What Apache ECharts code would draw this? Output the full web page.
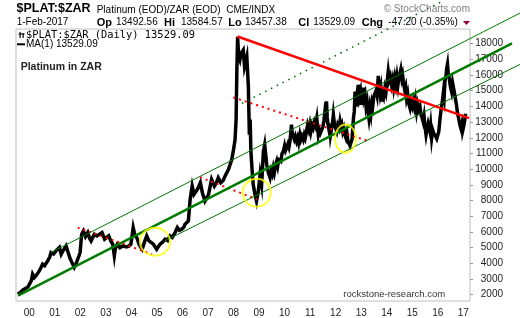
<!DOCTYPE html>
<html><head><meta charset="utf-8">
<script src="https://cdn.jsdelivr.net/npm/echarts@6/dist/echarts.min.js"></script>
<style>html,body{margin:0;padding:0;background:#fff;}#c{width:520px;height:318px;}</style>
</head><body><div id="c"></div>
<script>
// ---- data (decimal year, ZAR per oz) ----
const years = [1999.55,1999.65,1999.75,1999.80,1999.95,2000.00,2000.08,2000.13,2000.20,2000.28,2000.39,2000.45,2000.52,2000.60,2000.72,2000.80,2000.85,2000.95,
2001.05,2001.12,2001.18,2001.25,2001.32,2001.44,2001.52,2001.60,2001.70,2001.76,2001.85,2001.95,2001.99,
2002.05,2002.12,2002.20,2002.29,2002.36,2002.42,2002.50,2002.55,2002.65,2002.75,2002.85,2002.95,
2003.02,2003.11,2003.20,2003.27,2003.33,2003.37,2003.45,2003.55,2003.66,2003.80,2003.90,2003.98,
2004.07,2004.13,2004.22,2004.30,2004.34,2004.42,2004.52,2004.60,2004.68,2004.75,2004.86,2004.99,
2005.05,2005.12,2005.22,2005.32,2005.42,2005.51,2005.60,2005.71,2005.80,2005.88,2005.97,
2006.05,2006.10,2006.23,2006.30,2006.38,2006.45,2006.54,2006.62,2006.70,2006.78,2006.88,2006.96,
2007.02,2007.14,2007.25,2007.32,2007.40,2007.50,2007.60,2007.67,2007.80,2007.93,
2008.00,2008.06,2008.10,2008.13,2008.16,2008.20,2008.25,2008.30,2008.38,2008.43,2008.52,2008.58,2008.62,2008.65,2008.68,2008.73,2008.77,2008.84,2008.90,2008.97,
2009.04,2009.10,2009.17,2009.22,2009.30,2009.36,2009.43,2009.48,2009.52,2009.56,2009.60,2009.65,2009.69,2009.73,2009.77,2009.80,2009.85,2009.90,2009.95,
2010.00,2010.04,2010.08,2010.13,2010.17,2010.21,2010.24,2010.27,2010.30,2010.34,2010.38,2010.42,2010.47,2010.51,2010.55,2010.60,2010.64,2010.68,2010.73,2010.77,2010.81,2010.86,2010.90,2010.95,2010.99,
2011.03,2011.08,2011.12,2011.17,2011.21,2011.26,2011.29,2011.32,2011.36,2011.40,2011.45,2011.50,2011.54,2011.58,2011.62,2011.64,2011.67,2011.70,2011.74,2011.77,2011.80,2011.84,2011.88,2011.91,2011.95,
2012.00,2012.04,2012.08,2012.13,2012.17,2012.21,2012.24,2012.28,2012.32,2012.36,2012.40,2012.44,2012.48,2012.52,2012.56,2012.60,2012.64,2012.67,2012.70,2012.73,2012.76,2012.79,2012.82,2012.86,2012.89,2012.93,2012.97,
2013.00,2013.04,2013.08,2013.11,2013.15,2013.19,2013.23,2013.27,2013.30,2013.34,2013.38,2013.42,2013.45,2013.49,2013.54,2013.58,2013.62,2013.67,2013.70,2013.74,2013.77,2013.80,2013.84,2013.88,2013.93,2013.97,
2014.02,2014.06,2014.10,2014.14,2014.19,2014.23,2014.27,2014.32,2014.36,2014.40,2014.44,2014.48,2014.52,2014.55,2014.59,2014.62,2014.65,2014.70,2014.74,2014.78,2014.82,2014.86,2014.91,2014.95,
2015.00,2015.04,2015.08,2015.12,2015.17,2015.21,2015.25,2015.30,2015.34,2015.38,2015.42,2015.46,2015.50,2015.54,2015.58,2015.62,2015.65,2015.69,2015.72,2015.76,2015.80,2015.84,2015.88,2015.92,2015.96,
2016.00,2016.04,2016.09,2016.13,2016.18,2016.22,2016.25,2016.28,2016.32,2016.35,2016.38,2016.41,2016.45,2016.49,2016.54,2016.58,2016.62,2016.66,2016.70,2016.73,2016.77,2016.81,2016.84,2016.87,2016.90,2016.94,2016.97,
2017.01,2017.05,2017.09];
const prices = [2050,2150,2300,2360,2500,2570,2900,3310,3100,3250,3520,3700,3950,3850,4160,4400,4690,4600,
4800,4700,5010,4580,4800,5110,4690,4300,3950,3740,4060,4500,4690,
5850,6060,5700,5960,5600,5430,5700,5850,5750,5850,5960,5540,
5650,5750,5400,5220,4480,4950,5220,5000,5110,5050,5100,5220,
6280,5850,5600,5200,5110,4900,5400,5750,5450,5540,5220,4900,
5050,5220,5350,5540,5450,5750,5650,5960,6280,6100,6170,
6300,6490,6700,8080,8920,8390,8600,8820,9140,8500,7970,8200,
8390,9350,8920,9100,9450,9140,9300,9560,9980,10620,
11250,11890,13160,16330,18440,17200,16960,17400,17600,16540,17175,15270,12200,13160,11140,9870,9030,8390,7970,8600,
9660,9030,11140,11570,10300,9800,9450,9900,9700,10090,9800,10300,10510,10200,10600,10720,10500,11000,11140,
11500,11200,11360,11600,11400,11780,12300,12840,12300,12410,11900,12100,11780,12000,11700,12200,11900,12100,11890,12200,12000,12410,12800,12500,12840,
12400,12800,12630,13000,12800,13260,12700,12200,12500,12300,12410,12700,13100,13680,13400,14320,13300,12840,12500,12900,12200,12600,13000,13470,12900,
12600,12410,12800,12600,13050,12700,12840,12400,12600,12200,12000,12300,11780,11900,11500,11460,11900,12600,13300,13680,14950,14100,14500,14000,15380,14600,14900,
14110,14700,15200,14500,14740,14000,14300,13600,13260,13900,13500,14200,14000,14600,14530,15000,14700,15950,15300,14800,15100,14320,14800,14600,15170,14900,
15600,16220,15700,15900,15380,15700,15200,15800,15400,15900,15380,15900,16100,16330,15800,16000,15590,15100,15300,14530,14800,14200,13900,14300,
14000,14320,14000,14400,13680,14100,13800,14000,13500,13300,13050,13400,12700,12200,12600,12900,12840,12400,12800,11990,12500,12300,12410,12100,11950,
11890,12400,13260,13800,14320,14900,14600,15590,15900,16440,16700,16100,15800,15300,14950,15500,15380,14800,14400,14110,13600,13300,13050,12800,12630,12900,12410,
12700,13050,13529];

// annotation lines drawn on the chart, in data units [year, value]
const redTrend      = [[2008.155, 18457], [2017.223, 13251]];
const redDots1      = [[2001.896, 6279], [2004.806, 4584]];
const redDots2      = [[2006.686, 9492], [2008.919, 8076]];
const redDots3      = [[2007.991, 14571], [2013.228, 11822]];
const greenMain     = [[1999.557, 1949], [2018.907, 18012]];
const greenUpper    = [[2000.850, 4692], [2019.221, 19949]];
const greenLower    = [[2005.315, 5441], [2019.221, 16679]];
const greenDotted   = [[2008.331, 14190], [2016.263, 20774]];
// highlighted lows (yellow rings)
const ringYears  = [2004.924, 2008.907, 2012.385];
const ringValues = [5378, 8501, 11949];
const ringSizes  = [[30, 28], [28, 28], [21, 28]];

const yTicks = [2000,3000,4000,5000,6000,7000,8000,9000,10000,11000,12000,13000,14000,15000,16000,17000,18000];
const xTicks = [2000,2001,2002,2003,2004,2005,2006,2007,2008,2009,2010,2011,2012,2013,2014,2015,2016,2017];

const FONT = "'Liberation Sans', Arial, sans-serif";
const chart = echarts.init(document.getElementById('c'), null, {renderer: 'canvas'});

function txt(x, y, text, font, fill, align) {
  return {type: 'text', x: x, y: y, z: 100, silent: true,
    style: {text: text, font: font, fill: fill || '#000', textAlign: align || 'left', textVerticalAlign: 'middle'}};
}

const labels = [
  txt(16.5, 9, '$PLAT:$ZAR', 'bold 12.5px ' + FONT),
  txt(96.7, 9.8, 'Platinum (EOD)/ZAR (EOD)  CME/INDX', '10px ' + FONT),
  txt(470, 9.5, '\u00A9 StockCharts.com', '10px ' + FONT, '#808080', 'right'),
  txt(16.7, 22.5, '1-Feb-2017', '10px ' + FONT),
  txt(96.7, 22.5, 'Op', 'bold 11px ' + FONT), txt(116, 22.5, '13492.56', '10px ' + FONT),
  txt(164, 22.5, 'Hi', 'bold 11px ' + FONT), txt(181, 22.5, '13584.57', '10px ' + FONT),
  txt(228.3, 22.5, 'Lo', 'bold 11px ' + FONT), txt(245, 22.5, '13457.38', '10px ' + FONT),
  txt(298.3, 22.5, 'Cl', 'bold 11px ' + FONT), txt(313.3, 22.5, '13529.09', '10px ' + FONT),
  txt(361.7, 22.5, 'Chg', 'bold 11px ' + FONT), txt(388.3, 22.5, '-47.20 (-0.35%)', '10px ' + FONT),
  {type: 'polygon', z: 100, silent: true, shape: {points: [[463, 21], [470, 21], [466.5, 25]]}, style: {fill: '#990033'}},
  // legend inside the plot
  {type: 'rect', z: 100, silent: true, shape: {x: 19.5, y: 32, width: 1.2, height: 6}, style: {fill: '#000'}},
  {type: 'rect', z: 100, silent: true, shape: {x: 22.5, y: 33, width: 1.2, height: 5}, style: {fill: '#000'}},
  {type: 'rect', z: 100, silent: true, shape: {x: 18.5, y: 33.5, width: 6, height: 1}, style: {fill: '#000'}},
  txt(26, 35, '$PLAT:$ZAR (Daily) 13529.09', '10.4px \'DejaVu Sans Mono\', monospace'),
  {type: 'rect', z: 100, silent: true, shape: {x: 17, y: 43.3, width: 8, height: 2}, style: {fill: '#000'}},
  txt(26, 44.3, 'MA(1) 13529.09', '10px ' + FONT),
  txt(20.7, 67, 'Platinum in ZAR', 'bold 10.5px ' + FONT, '#222'),
  txt(343.3, 294.7, 'rockstone-research.com', '9.5px ' + FONT, '#333')
];

const option = {
  animation: false,
  backgroundColor: '#fff',
  grid: {left: 16, top: 29, width: 454, height: 273, show: true, borderColor: '#c0c0c0', borderWidth: 1, backgroundColor: 'transparent'},
  xAxis: {
    type: 'value', min: 1999.479, max: 2017.262,
    axisLine: {show: false}, axisTick: {show: false}, splitLine: {show: false},
    axisLabel: {customValues: xTicks, margin: 7, color: '#222', fontSize: 10, fontFamily: FONT,
      formatter: v => String(Math.round(v) % 100).padStart(2, '0')}
  },
  yAxis: {
    type: 'value', position: 'right', min: 1600, max: 18933,
    axisLine: {show: false}, splitLine: {show: false},
    axisTick: {show: true, customValues: yTicks, length: 3, lineStyle: {color: '#999'}},
    axisLabel: {customValues: yTicks, align: 'right', margin: 33, color: '#222', fontSize: 10, fontFamily: FONT,
      formatter: v => String(Math.round(v))}
  },
  series: [
    {type: 'line', data: years.map((y, i) => [y, prices[i]]), showSymbol: false, z: 2,
      lineStyle: {color: '#000', width: 3.5, join: 'miter'}},
    {type: 'scatter', z: 7, silent: true,
      data: ringYears.map((y, i) => ({value: [y, ringValues[i]], symbolSize: ringSizes[i]})),
      symbol: 'circle',
      itemStyle: {color: 'rgba(0,0,0,0)', borderColor: '#ffff00', borderWidth: 2}}
  ],
  graphic: labels
};
chart.setOption(option);

// annotation lines, placed through the chart's own scales (not clipped to the plot)
const toPx = p => chart.convertToPixel({gridIndex: 0}, p);
function gline(pts, color, width, dash, z) {
  const a = toPx(pts[0]), b = toPx(pts[1]);
  return {type: 'line', z: z, silent: true,
    shape: {x1: a[0], y1: a[1], x2: b[0], y2: b[1]},
    style: {stroke: color, lineWidth: width, lineDash: dash || null, lineCap: 'butt'}};
}
const lines = [
  gline(redDots1, '#ff0000', 2, [2, 4], 5),
  gline(redDots2, '#ff0000', 2, [2, 4], 5),
  gline(redDots3, '#ff0000', 2, [2, 4], 5),
  gline(greenMain, '#007a00', 2.5, null, 5),
  gline(greenUpper, '#007a00', 1, null, 5),
  gline(greenLower, '#007a00', 1, null, 5),
  gline(greenDotted, '#006400', 1.5, [1.5, 5], 5),
  gline(redTrend, '#ff0000', 2.5, null, 6)
];
chart.setOption({graphic: labels.concat(lines)});
</script>
</body></html>
